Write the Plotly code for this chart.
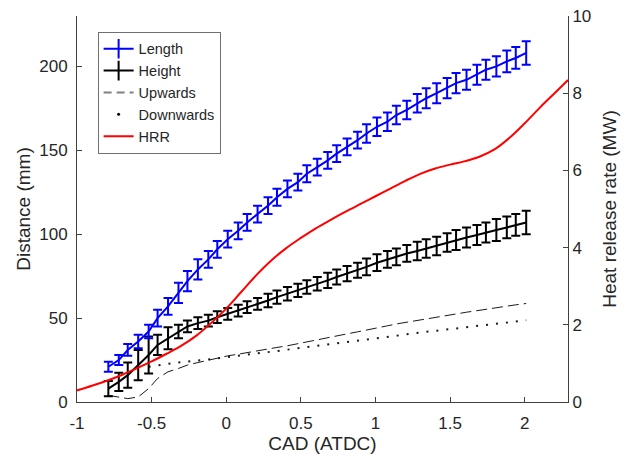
import plotly.graph_objects as go

# CAD sample positions for measured series
cad = [-0.79, -0.72, -0.66, -0.59, -0.52, -0.46, -0.39, -0.32, -0.26, -0.19,
       -0.12, -0.06, 0.01, 0.08, 0.14, 0.21, 0.28, 0.34, 0.41, 0.48,
       0.54, 0.61, 0.68, 0.74, 0.81, 0.88, 0.94, 1.01, 1.08, 1.14,
       1.21, 1.28, 1.34, 1.41, 1.48, 1.54, 1.61, 1.68, 1.74, 1.81,
       1.88, 1.94, 2.01]

length_mm = [21, 25, 31, 36, 42, 50, 57, 65, 72, 79,
             85, 91, 97, 102, 107, 112, 117, 122, 127, 131,
             136, 140, 144, 148, 152, 156, 160, 164, 167, 171,
             174, 178, 181, 184, 187, 190, 192, 195, 198, 200,
             203, 205, 208]
length_err = [3, 3, 3.5, 4, 4, 5, 5, 6, 6, 6,
              5, 5, 5, 5, 5, 5, 5, 5, 5, 5,
              5, 5, 5, 5, 5, 5, 5.5, 5.5, 5.5, 5.5,
              5.5, 5.5, 6, 6, 6, 6, 6, 6, 6, 6,
              6.5, 6.5, 7]

height_mm = [8, 12, 16, 22, 28, 34, 38, 42, 45, 47,
             48.5, 50.5, 52.5, 54.5, 56.5, 58.5, 60.5, 62.5, 64.5, 66.5,
             68.5, 70.5, 72.5, 74.5, 76.5, 78.5, 80.5, 83, 85, 86.5,
             88.5, 90, 91.5, 93, 95, 96.5, 98, 99.5, 101, 102.5,
             104, 105.5, 107]
height_err = [4.5, 5.5, 7.5, 9, 11, 6, 6.5, 4, 3.5, 3.5,
              3.5, 3.5, 3.5, 3.5, 3.5, 3.5, 4, 4, 4, 4,
              4, 4, 4.5, 4.5, 4.5, 4.5, 5, 5, 5, 5,
              5, 5.5, 5.5, 5.5, 5.5, 6, 6, 6, 6, 6.5,
              6.5, 6.5, 7]

upwards_mm = [4, 3, 2, 3, 8, 14, 18, 20, 22, 23.5,
              25, 26, 27.5, 28.5, 29.5, 30.5, 31.5, 32.5, 33.5, 34.8,
              36, 37, 38.2, 39.4, 40.6, 41.8, 43, 44.3, 45.4, 46.5,
              47.6, 48.6, 49.6, 50.6, 51.6, 52.6, 53.5, 54.4, 55.3, 56.2,
              57, 57.9, 58.7]

down_cad = [-0.52, -0.46, -0.39, -0.32, -0.26, -0.19, -0.12, -0.06, 0.01, 0.08,
            0.14, 0.21, 0.28, 0.34, 0.41, 0.48, 0.54, 0.61, 0.68, 0.74,
            0.81, 0.88, 0.94, 1.01, 1.08, 1.14, 1.21, 1.28, 1.34, 1.41,
            1.48, 1.54, 1.61, 1.68, 1.74, 1.81, 1.88, 1.94, 2.01]
downwards_mm = [21, 22, 22.8, 23.5, 24.2, 24.8, 25.4, 26, 26.7, 27.4,
                28.1, 28.8, 29.6, 30.4, 31.2, 32, 32.8, 33.6, 34.4, 35.2,
                36, 36.8, 37.6, 38.3, 39, 39.7, 40.4, 41.1, 41.8, 42.5,
                43.2, 43.9, 44.6, 45.3, 46, 46.7, 47.4, 48, 48.7]

hrr_cad = [-1.0, -0.9, -0.8, -0.7, -0.6, -0.5, -0.4, -0.3, -0.2, -0.1,
           0.0, 0.1, 0.2, 0.3, 0.4, 0.5, 0.6, 0.7, 0.8, 0.9,
           1.0, 1.1, 1.2, 1.3, 1.4, 1.5, 1.6, 1.7, 1.8, 1.9,
           2.0, 2.1, 2.2, 2.29]
hrr_mw = [0.30, 0.42, 0.55, 0.70, 0.87, 1.05, 1.25, 1.46, 1.72, 2.05,
          2.42, 2.85, 3.28, 3.66, 3.98, 4.25, 4.50, 4.72, 4.93, 5.13,
          5.33, 5.53, 5.73, 5.91, 6.05, 6.15, 6.24, 6.36, 6.55, 6.85,
          7.22, 7.62, 8.00, 8.34]

FONT = "Arial, Liberation Sans, sans-serif"
AX = "#404040"
TXT = "#262626"

fig = go.Figure()

# Data traces (not in legend)
fig.add_trace(go.Scatter(x=cad, y=upwards_mm, mode="lines", showlegend=False,
                         line=dict(color="#1a1a1a", width=1, dash="11px,5px")))
fig.add_trace(go.Scatter(x=down_cad, y=downwards_mm, mode="lines", showlegend=False,
                         line=dict(color="#1a1a1a", width=2, dash="2px,8px")))
fig.add_trace(go.Scatter(x=cad, y=height_mm, mode="lines", showlegend=False,
                         line=dict(color="black", width=2),
                         error_y=dict(type="data", array=height_err, color="black",
                                      thickness=2, width=4.5)))
fig.add_trace(go.Scatter(x=cad, y=length_mm, mode="lines", showlegend=False,
                         line=dict(color="#0000ff", width=2),
                         error_y=dict(type="data", array=length_err, color="#0000ff",
                                      thickness=2, width=4.5)))
fig.add_trace(go.Scatter(x=hrr_cad, y=hrr_mw, mode="lines", showlegend=False,
                         yaxis="y2", line=dict(color="#ff0000", width=2, shape="spline")))

# Legend entries
fig.add_trace(go.Scatter(x=[None], y=[None], mode="lines+markers", name="Length",
                         line=dict(color="#0000ff", width=2),
                         marker=dict(symbol="line-ns", size=14,
                                     line=dict(color="#0000ff", width=2))))
fig.add_trace(go.Scatter(x=[None], y=[None], mode="lines+markers", name="Height",
                         line=dict(color="black", width=2),
                         marker=dict(symbol="line-ns", size=14,
                                     line=dict(color="black", width=2))))
fig.add_trace(go.Scatter(x=[None], y=[None], mode="lines", name="Upwards",
                         line=dict(color="#808080", width=2, dash="8px,5px")))
fig.add_trace(go.Scatter(x=[None], y=[None], mode="markers", name="Downwards",
                         marker=dict(color="black", size=3)))
fig.add_trace(go.Scatter(x=[None], y=[None], mode="lines", name="HRR",
                         line=dict(color="#ff0000", width=2)))

fig.update_layout(
    width=624, height=462,
    margin=dict(l=77, r=56, t=16, b=60),
    paper_bgcolor="white", plot_bgcolor="white",
    font=dict(family=FONT, size=17, color=TXT),
    xaxis=dict(range=[-1, 2.29], tickvals=[-1, -0.5, 0, 0.5, 1, 1.5, 2],
               ticktext=["-1", "-0.5", "0", "0.5", "1", "1.5", "2"],
               automargin=False, ticklabelstandoff=6,
               showgrid=False, zeroline=False, showline=True, linecolor=AX,
               linewidth=1, ticks="inside", ticklen=5, tickcolor=AX,
               title=dict(text="CAD (ATDC)", font=dict(size=19), standoff=0)),
    yaxis=dict(range=[0, 230], tickvals=[0, 50, 100, 150, 200],
               automargin=False, ticklabelstandoff=5,
               showgrid=False, zeroline=False, showline=True, linecolor=AX,
               linewidth=1, ticks="inside", ticklen=5, tickcolor=AX,
               title=dict(text="Distance (mm)", font=dict(size=19), standoff=3)),
    yaxis2=dict(range=[0, 10], tickvals=[0, 2, 4, 6, 8, 10], overlaying="y",
                automargin=False,
                side="right", showgrid=False, zeroline=False, showline=True,
                linecolor=AX, linewidth=1, ticks="inside", ticklen=5, tickcolor=AX,
                title=dict(text="Heat release rate (MW)", font=dict(size=19), standoff=12)),
    legend=dict(x=0.042, y=0.959, xanchor="left", yanchor="top",
                bgcolor="white", bordercolor="#707070", borderwidth=1,
                font=dict(size=14.5, color=TXT), tracegroupgap=0),
)

fig.write_html("out.html", config={"displayModeBar": False},
               post_script="document.body.style.margin='0';")
